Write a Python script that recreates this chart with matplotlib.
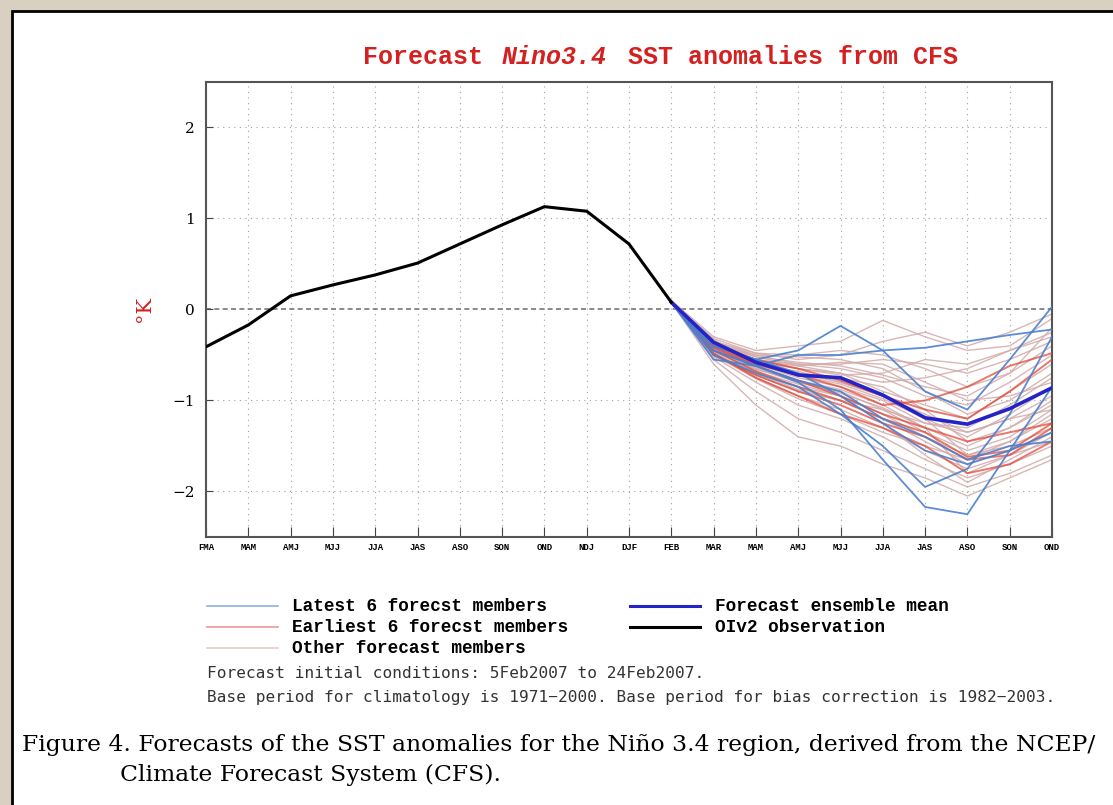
import numpy as np
import matplotlib
matplotlib.use('Agg')
from matplotlib import pyplot as plt
from matplotlib.patches import Rectangle

#Month labels along x (3-month seasons, FEB is the forecast start)
tick_labels = ['FMA', 'MAM', 'AMJ', 'MJJ', 'JJA', 'JAS', 'ASO', 'SON', 'OND', 'NDJ', 'DJF',
               'FEB', 'MAR', 'MAM', 'AMJ', 'MJJ', 'JJA', 'JAS', 'ASO', 'SON', 'OND']

#OIv2 observation FMA .. FEB
obs = [-0.41, -0.17, 0.15, 0.27, 0.38, 0.51, 0.72, 0.93, 1.13, 1.08, 0.72, 0.08]

#Forecast ensemble mean FEB .. OND
ens_mean = [0.08, -0.36, -0.58, -0.72, -0.75, -0.94, -1.19, -1.26, -1.09, -0.86]

#Latest 6 forecast members FEB .. OND
latest = [
    [0.08, -0.40, -0.55, -0.45, -0.18, -0.45, -0.90, -1.10, -0.55, 0.03],
    [0.08, -0.55, -0.62, -0.50, -0.50, -0.45, -0.42, -0.35, -0.28, -0.22],
    [0.08, -0.45, -0.62, -0.80, -1.10, -1.65, -2.17, -2.25, -1.55, -0.85],
    [0.08, -0.50, -0.70, -0.85, -1.15, -1.50, -1.95, -1.75, -1.15, -0.30],
    [0.08, -0.40, -0.55, -0.70, -0.95, -1.25, -1.55, -1.70, -1.55, -1.35],
    [0.08, -0.45, -0.62, -0.78, -0.90, -1.20, -1.40, -1.65, -1.50, -1.45],
]

#Earliest 6 forecast members FEB .. OND
earliest = [
    [0.08, -0.40, -0.60, -0.72, -0.85, -1.05, -1.00, -0.85, -0.62, -0.48],
    [0.08, -0.45, -0.68, -0.85, -1.00, -1.20, -1.35, -1.62, -1.55, -1.25],
    [0.08, -0.50, -0.72, -0.90, -1.05, -1.25, -1.40, -1.65, -1.60, -1.30],
    [0.08, -0.42, -0.62, -0.78, -0.95, -1.15, -1.30, -1.45, -1.35, -1.25],
    [0.08, -0.48, -0.75, -0.95, -1.15, -1.30, -1.50, -1.80, -1.70, -1.45],
    [0.08, -0.38, -0.55, -0.65, -0.78, -0.95, -1.10, -1.20, -0.90, -0.55],
]

#Other forecast members FEB .. OND
others = [
    [0.10, -0.30, -0.45, -0.40, -0.35, -0.12, -0.30, -0.45, -0.40, -0.10],
    [0.08, -0.32, -0.48, -0.55, -0.50, -0.35, -0.25, -0.40, -0.25, -0.05],
    [0.08, -0.35, -0.50, -0.60, -0.60, -0.55, -0.60, -0.70, -0.55, -0.35],
    [0.09, -0.38, -0.52, -0.62, -0.70, -0.80, -0.75, -0.65, -0.45, -0.25],
    [0.07, -0.40, -0.55, -0.65, -0.70, -0.90, -1.05, -1.20, -0.90, -0.60],
    [0.08, -0.33, -0.58, -0.70, -0.80, -0.95, -1.15, -1.35, -1.20, -0.95],
    [0.06, -0.42, -0.60, -0.75, -0.85, -1.00, -1.25, -1.30, -1.05, -0.75],
    [0.08, -0.45, -0.65, -0.80, -0.90, -1.10, -1.35, -1.55, -1.40, -1.10],
    [0.09, -0.36, -0.55, -0.60, -0.65, -0.75, -0.95, -1.05, -0.80, -0.50],
    [0.08, -0.48, -0.70, -0.85, -0.95, -1.15, -1.40, -1.60, -1.50, -1.30],
    [0.07, -0.50, -0.75, -0.95, -1.10, -1.30, -1.55, -1.75, -1.60, -1.45],
    [0.08, -0.52, -0.80, -1.05, -1.20, -1.40, -1.65, -1.85, -1.70, -1.50],
    [0.08, -0.55, -0.90, -1.20, -1.35, -1.55, -1.75, -1.95, -1.80, -1.60],
    [0.08, -0.60, -1.05, -1.40, -1.50, -1.70, -1.85, -2.05, -1.85, -1.65],
    [0.08, -0.40, -0.62, -0.70, -0.75, -0.85, -1.10, -1.45, -1.30, -1.00],
    [0.08, -0.38, -0.50, -0.52, -0.55, -0.65, -0.90, -1.15, -1.00, -0.70],
    [0.09, -0.42, -0.58, -0.65, -0.72, -0.70, -0.55, -0.60, -0.45, -0.30],
    [0.08, -0.44, -0.60, -0.68, -0.80, -0.95, -1.20, -1.40, -1.15, -0.85],
    [0.07, -0.46, -0.66, -0.78, -0.88, -1.05, -1.30, -1.50, -1.30, -1.05],
    [0.08, -0.50, -0.72, -0.90, -1.00, -1.20, -1.45, -1.70, -1.55, -1.35],
    [0.08, -0.35, -0.48, -0.50, -0.45, -0.50, -0.65, -0.85, -0.70, -0.40],
    [0.08, -0.45, -0.68, -0.82, -0.95, -1.25, -1.60, -1.90, -1.65, -1.40],
    [0.08, -0.40, -0.56, -0.62, -0.58, -0.60, -0.80, -1.00, -0.95, -0.80],
    [0.08, -0.48, -0.70, -0.88, -1.00, -1.10, -1.25, -1.35, -1.20, -1.10],
    [0.08, -0.42, -0.60, -0.72, -0.82, -0.98, -1.20, -1.60, -1.45, -1.20],
    [0.08, -0.36, -0.52, -0.58, -0.62, -0.72, -0.85, -0.95, -0.70, -0.20],
    [0.08, -0.50, -0.76, -0.98, -1.15, -1.35, -1.50, -1.65, -1.45, -1.15],
    [0.08, -0.44, -0.64, -0.80, -0.92, -1.08, -1.30, -1.80, -1.60, -1.35],
]

#Colours
c_latest = '#4a80d0'
c_earliest = '#e0402e'
c_other = '#d2aaaa'
c_mean = '#2323c8'
title_red = '#d42020'
mono = ['Liberation Mono', 'DejaVu Sans Mono']

W, H = 1113, 805
fig = plt.figure(figsize=(W / 100, H / 100), dpi=100)
fig.patch.set_facecolor('#d9d0c1')

#white panel with black border on left/top (behind the axes)
panel = Rectangle((12 / W, -0.01), 1.0, 1.01 - 11 / H, transform=fig.transFigure,
                  facecolor='white', edgecolor='black', linewidth=2, zorder=-10)
fig.add_artist(panel)

ax = fig.add_axes([206 / W, 1 - 537 / H, (1052 - 206) / W, (537 - 82) / H])
ax.set_xlim(0, 20)
ax.set_ylim(-2.5, 2.5)

x_obs = np.arange(len(obs))
x_fc = np.arange(11, 21)

#grid
for xv in range(1, 20):
    ax.axvline(xv, color='#a0a0a0', lw=0.8, ls=(0, (1, 4)), zorder=1)
for yv in [-2, -1, 1, 2]:
    ax.axhline(yv, color='#a0a0a0', lw=0.8, ls=(0, (1, 4)), zorder=1)
ax.axhline(0, color='#777777', lw=1.2, ls=(0, (3, 2)), zorder=1)

#members
for m in others:
    ax.plot(x_fc, m, color=c_other, lw=1.0, alpha=0.85, zorder=2)
for m in earliest:
    ax.plot(x_fc, m, color=c_earliest, lw=1.4, alpha=0.7, zorder=3)
for m in latest:
    ax.plot(x_fc, m, color=c_latest, lw=1.3, alpha=0.9, zorder=4)
ax.plot(x_fc, ens_mean, color=c_mean, lw=2.6, zorder=5)
ax.plot(x_obs, obs, color='black', lw=2.2, zorder=6)

#axes decoration
ax.set_xticks(np.arange(21))
ax.set_xticklabels(tick_labels, fontsize=6.5, fontweight='bold', family=mono)
ax.set_yticks([-2, -1, 0, 1, 2])
ax.set_yticklabels(['\u22122', '\u22121', '0', '1', '2'], fontsize=11, family='DejaVu Serif')
ax.tick_params(axis='x', direction='in', length=7, pad=4, color='#444444')
ax.tick_params(axis='y', direction='in', length=5, pad=8, color='#444444')
for s in ax.spines.values():
    s.set_color('#555555')
    s.set_linewidth(1.5)
ax.set_ylabel('\u00b0K', color=title_red, fontsize=15, family='DejaVu Serif', labelpad=13)

#overlay axes in pixel coordinates for title, legend, notes
ov = fig.add_axes([0, 0, 1, 1], facecolor='none')
ov.set_xlim(0, W)
ov.set_ylim(H, 0)
ov.axis('off')

tkw = dict(color=title_red, fontsize=18, fontweight='bold', va='center', family=mono)
ov.text(363, 57, 'Forecast', ha='left', **tkw)
ov.text(502, 57, 'Nino3.4', ha='left', style='italic', **tkw)
ov.text(958, 57, 'SST anomalies from CFS', ha='right', **tkw)

#legend
legend_rows = [
    (207, 278, 292, 606, '#8fb0e0', 1.2, 'Latest 6 forecst members'),
    (207, 278, 292, 627, '#e89a90', 1.2, 'Earliest 6 forecst members'),
    (207, 278, 292, 648, '#e6cccc', 1.2, 'Other forecast members'),
    (630, 700, 715, 606, c_mean, 2.2, 'Forecast ensemble mean'),
    (630, 700, 715, 627, 'black', 2.2, 'OIv2 observation'),
]
for x0, x1, xt, yy, col, lw, lab in legend_rows:
    ov.plot([x0, x1], [yy, yy], color=col, lw=lw)
    ov.text(xt, yy, lab, fontsize=12.8, fontweight='bold', family=mono, va='center', ha='left')

ov.text(207, 673, 'Forecast initial conditions: 5Feb2007 to 24Feb2007.',
        fontsize=11.6, family='DejaVu Sans Mono', va='center', ha='left', color='#333333')
ov.text(207, 697, 'Base period for climatology is 1971\u22122000. Base period for bias correction is 1982\u22122003.',
        fontsize=11.6, family='DejaVu Sans Mono', va='center', ha='left', color='#333333')

ov.text(22, 745, 'Figure 4. Forecasts of the SST anomalies for the Ni\u00f1o 3.4 region, derived from the NCEP/',
        fontsize=16.9, family='DejaVu Serif', va='center', ha='left')
ov.text(120, 775, 'Climate Forecast System (CFS).',
        fontsize=16.9, family='DejaVu Serif', va='center', ha='left')

fig.savefig('out.png', dpi=100, facecolor=fig.get_facecolor())
